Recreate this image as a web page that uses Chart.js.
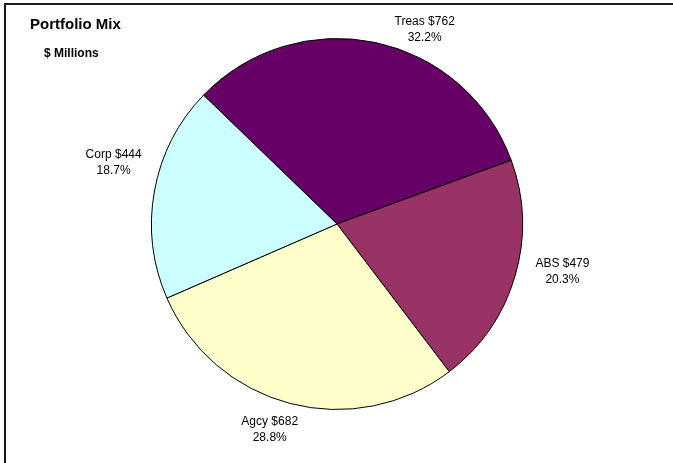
<!DOCTYPE html>
<html>
<head>
<meta charset="utf-8">
<title>Portfolio Mix</title>
<script src="https://cdn.jsdelivr.net/npm/chart.js@4"></script>
<style>
  html, body { margin: 0; padding: 0; background: #fff; }
  canvas { display: block; }
</style>
</head>
<body>
<canvas id="mixChart" width="673" height="463"></canvas>
<script>
// Portfolio holdings, $ millions
const sectors = ['Treas', 'ABS', 'Agcy', 'Corp'];
const amounts = [762, 479, 682, 444];
const shares = ['32.2%', '20.3%', '28.8%', '18.7%'];
const sectorColors = ['#660066', '#993366', '#FFFFCC', '#CCFFFF'];

// where each label sits around the pie: angle nudge (deg) and gap past the rim (px)
const labelNudge = [12.3, -4.3, 3.5, 5];
const labelGap = [28, 45, 31, 46];

const font = '"Liberation Sans", Arial, Helvetica, sans-serif';

// frame, headings and the outside slice labels
const decorPlugin = {
    id: 'decor',
    beforeDraw(chart) {
        const ctx = chart.ctx;
        ctx.save();
        ctx.fillStyle = '#fff';
        ctx.fillRect(0, 0, chart.width, chart.height);
        ctx.strokeStyle = '#1a1a1a';
        ctx.lineWidth = 2;
        ctx.beginPath();
        ctx.moveTo(5, chart.height);
        ctx.lineTo(5, 4);
        ctx.lineTo(chart.width, 4);
        ctx.stroke();

        ctx.fillStyle = '#000';
        ctx.textAlign = 'left';
        ctx.textBaseline = 'alphabetic';
        ctx.font = 'bold 15px ' + font;
        ctx.fillText('Portfolio Mix', 30, 29);
        ctx.font = 'bold 12px ' + font;
        ctx.fillText('$ Millions', 44, 57);
        ctx.restore();
    },
    afterDatasetsDraw(chart) {
        const ctx = chart.ctx;
        const meta = chart.getDatasetMeta(0);
        ctx.save();
        ctx.fillStyle = '#000';
        ctx.font = '12px ' + font;
        ctx.textAlign = 'center';
        ctx.textBaseline = 'middle';
        meta.data.forEach((arc, i) => {
            const p = arc.getProps(['x', 'y', 'startAngle', 'endAngle', 'outerRadius'], true);
            const mid = (p.startAngle + p.endAngle) / 2 + labelNudge[i] * Math.PI / 180;
            const d = p.outerRadius + labelGap[i];
            const lx = p.x + Math.cos(mid) * d;
            const ly = p.y + Math.sin(mid) * d;
            ctx.fillText(sectors[i] + ' $' + amounts[i], lx, ly - 8);
            ctx.fillText(shares[i], lx, ly + 8);
        });
        ctx.restore();
    }
};

const mixChart = new Chart(document.getElementById('mixChart').getContext('2d'), {
    type: 'pie',
    data: {
        labels: sectors,
        datasets: [{
            data: amounts,
            backgroundColor: sectorColors,
            borderColor: '#000',
            borderWidth: 1
        }]
    },
    options: {
        responsive: false,
        animation: false,
        rotation: -46,
        layout: {
            padding: { left: 151, right: 150, top: 38, bottom: 53 }
        },
        plugins: {
            legend: { display: false },
            tooltip: { enabled: false }
        }
    },
    plugins: [decorPlugin]
});
</script>
</body>
</html>
